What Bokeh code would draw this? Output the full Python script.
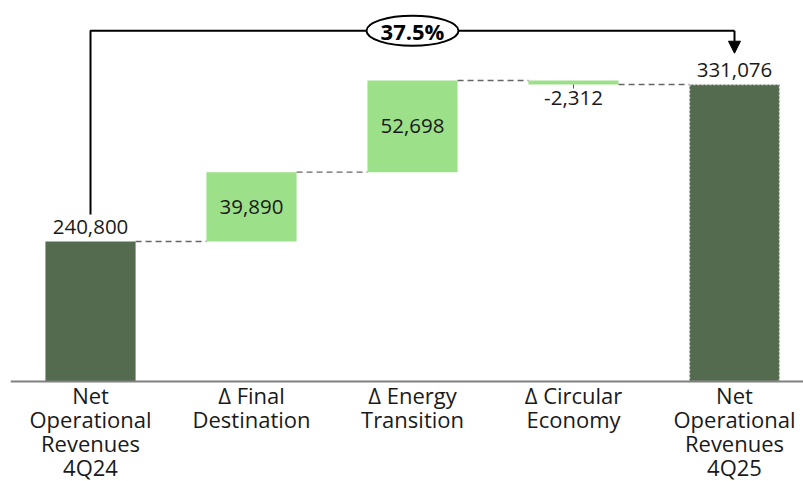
from bokeh.plotting import figure
from bokeh.models import Range1d, Arrow, NormalHead, Span
from bokeh.core.properties import value
from bokeh.embed import file_html
from bokeh.resources import INLINE
import math

# ---- data ----
categories = ["Net\nOperational\nRevenues\n4Q24", "Δ Final\nDestination",
              "Δ Energy\nTransition", "Δ Circular\nEconomy",
              "Net\nOperational\nRevenues\n4Q25"]
start_value = 240800
deltas = [39890, 52698, -2312]
end_value = 331076
axis_min = 160300   # value axis starts here (baseline)

DARK = "#556B50"
LIGHT = "#9DE08A"
FONT = "Open Sans"
W = 0.56

p = figure(width=803, height=481, output_backend="svg", toolbar_location=None,
           x_range=Range1d(-0.497, 4.4286), y_range=Range1d(102800, 379400),
           min_border_left=10, min_border_right=0, min_border_top=0,
           min_border_bottom=0, x_axis_location=None, y_axis_location=None)
p.outline_line_color = None
p.grid.visible = False
p.background_fill_color = "white"

xs = list(range(len(categories)))

# totals
tot_x = [0, 4]
tot_top = [start_value, end_value]
p.vbar(x=[0], bottom=[axis_min], top=[start_value], width=W, fill_color=DARK, line_color=None)
p.vbar(x=[4], bottom=[axis_min], top=[end_value], width=W, fill_color=DARK,
       line_color="#e8e8e8", line_dash="2 2", line_width=1.5)

# deltas
cum = [start_value]
for d in deltas:
    cum.append(cum[-1] + d)
dx = [1, 2, 3]
lo = [min(cum[i], cum[i + 1]) for i in range(3)]
hi = [max(cum[i], cum[i + 1]) for i in range(3)]
p.vbar(x=dx, bottom=lo, top=hi, width=W, fill_color=LIGHT, line_color=None)

# connectors
levels = [start_value, cum[1], cum[2], cum[3]]
p.segment(x0=[i + W / 2 for i in range(4)], x1=[i + 1 - W / 2 for i in range(4)],
          y0=levels, y1=levels, line_color="#666666", line_width=1.4, line_dash="6 4")

# baseline (category axis line)
p.add_layout(Span(location=axis_min, dimension="width", line_color="#808080", line_width=2))

# category labels
p.text(x=xs, y=[axis_min] * len(xs), text=categories, text_align="center",
       text_baseline="top", y_offset=-2, text_font=value(FONT), text_font_size="22px",
       text_line_height=0.8, text_color="#1a1a1a")

# total labels
p.text(x=tot_x, y=tot_top, text=[f"{v:,}" for v in tot_top], text_align="center",
       text_baseline="alphabetic", y_offset=-15, text_font=value(FONT),
       text_font_size="20.5px", text_color="#1a1a1a")

# delta labels
pos_x = [1, 2]
pos_mid = [(lo[i] + hi[i]) / 2 for i in range(2)]
p.text(x=pos_x, y=pos_mid, text=[f"{d:,}" for d in deltas[:2]], text_align="center",
       text_baseline="middle", text_font=value(FONT), text_font_size="20.5px",
       text_color="#1a1a1a")
p.text(x=[3], y=[lo[2]], text=[f"{deltas[2]:,}"], text_align="center",
       text_baseline="alphabetic", y_offset=13, text_font=value(FONT),
       text_font_size="20.5px", text_color="#1a1a1a")
p.ray(x=[3], y=[lo[2]], length=4, length_units="screen", angle=-math.pi / 2,
      line_color="#555555", line_width=1)

# bracket
bracket_y = 362000
p.line(x=[0, 0, 4], y=[start_value + 15500, bracket_y, bracket_y],
       line_color="black", line_width=2)
p.add_layout(Arrow(x_start=4, y_start=bracket_y, x_end=4, y_end=end_value + 18000,
                   line_color="black", line_width=2,
                   end=NormalHead(size=12, fill_color="black", line_color="black")))
p.ellipse(x=[2], y=[bracket_y], width=92, height=30, width_units="screen",
          height_units="screen", fill_color="white", line_color="black", line_width=2)
pct = (end_value / start_value - 1) * 100
p.text(x=[2], y=[bracket_y], text=[f"{pct:.1f}%"], text_align="center",
       text_baseline="middle", text_font=value(FONT), text_font_size="22px",
       text_font_style="bold", text_color="black")

open("out.html", "w").write(file_html(p, INLINE))
